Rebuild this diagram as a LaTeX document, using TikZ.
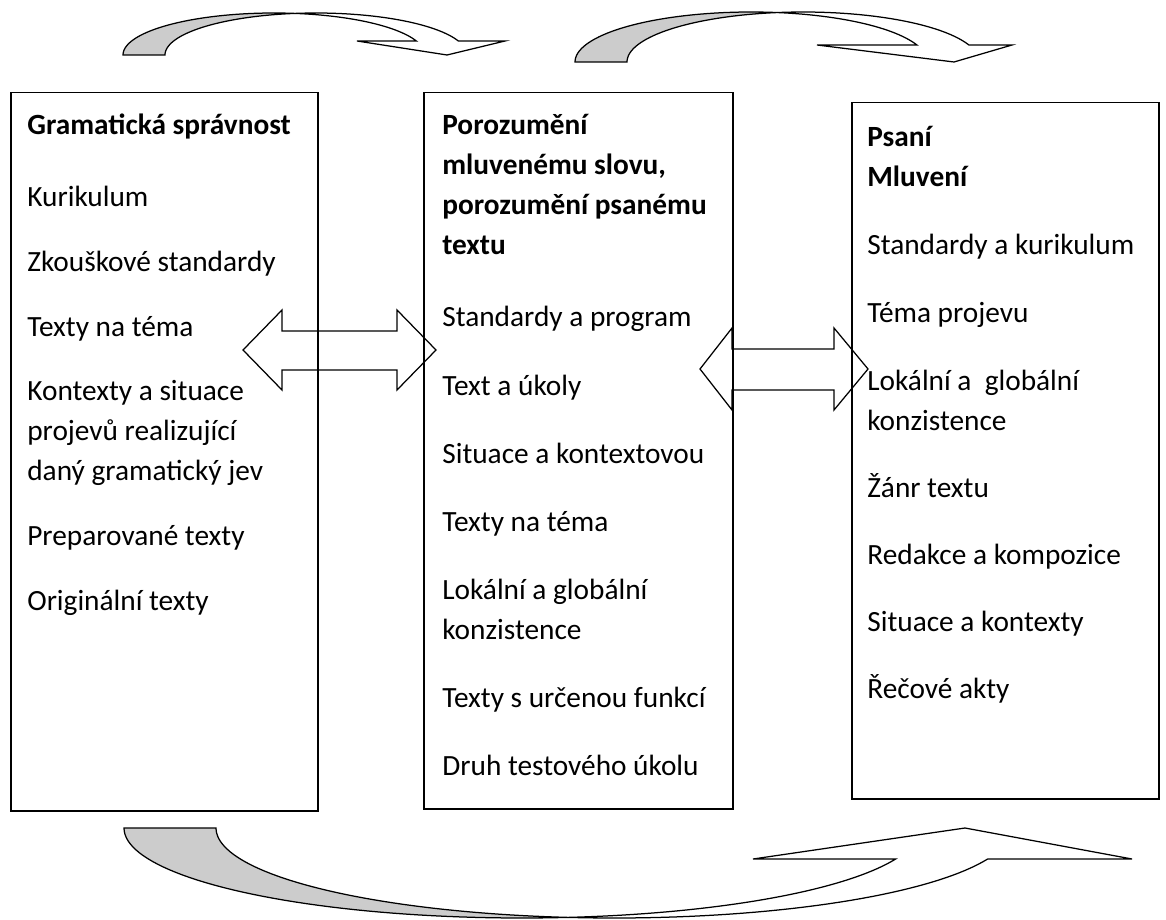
\documentclass[tikz,border=0pt]{standalone}
\usepackage{fontspec}
\setmainfont{Carlito}
\definecolor{underside}{RGB}{204,204,204}
\tikzset{
  panel/.style={draw, line width=0.9pt, anchor=north west, inner sep=0pt},
  item/.style={anchor=base west, inner sep=0pt, font=\fontsize{17.6}{21}\selectfont},
  heading/.style={item, font=\fontsize{17.6}{21}\selectfont\bfseries},
  blockarrow/.style={draw, line width=0.75pt, line join=miter},
}
\begin{document}
\begin{tikzpicture}[x=0.6pt,y=-0.6pt]
\useasboundingbox (0,0) rectangle (1166,920);

% three panels
\node[panel, minimum width=184.2pt, minimum height=430.8pt] (gram) at (10,92) {};
\node[panel, minimum width=185.4pt, minimum height=429.6pt] (poro) at (423,92) {};
\node[panel, minimum width=184.2pt, minimum height=417.6pt] (psani) at (851,102) {};

% left panel
\node[heading] (g0) at (27,135) {Gramatická správnost};
\node[item] (g1) at (27,207) {Kurikulum};
\node[item] (g2) at (27,272) {Zkouškové standardy};
\node[item] (g3) at (27,336) {Texty na téma};
\node[item] (g4) at (27,400) {Kontexty a situace};
\node[item] (g5) at (27,440) {projevů realizující};
\node[item] (g6) at (27,480) {daný gramatický jev};
\node[item] (g7) at (27,545) {Preparované texty};
\node[item] (g8) at (27,610) {Originální texty};

% middle panel
\node[heading] (p0) at (442,135) {Porozumění};
\node[heading] (p1) at (442,175) {mluvenému slovu,};
\node[heading] (p2) at (442,215) {porozumění psanému};
\node[heading] (p3) at (442,255) {textu};
\node[item] (p4) at (442,327) {Standardy a program};
\node[item] (p5) at (442,395) {Text a úkoly};
\node[item] (p6) at (442,463) {Situace a kontextovou};
\node[item] (p7) at (442,531) {Texty na téma};
\node[item] (p8) at (442,599) {Lokální a globální};
\node[item] (p9) at (442,639) {konzistence};
\node[item] (p10) at (442,707) {Texty s určenou funkcí};
\node[item] (p11) at (442,775) {Druh testového úkolu};

% right panel
\node[heading] (s0) at (867,147) {Psaní};
\node[heading] (s1) at (867,187) {Mluvení};
\node[item] (s2) at (867,255) {Standardy a kurikulum};
\node[item] (s3) at (867,322) {Téma projevu};
\node[item] (s4) at (867,390) {Lokální a\ \ globální};
\node[item] (s5) at (867,430) {konzistence};
\node[item] (s6) at (867,497) {Žánr textu};
\node[item] (s7) at (867,564) {Redakce a kompozice};
\node[item] (s8) at (867,631) {Situace a kontexty};
\node[item] (s9) at (867,698) {Řečové akty};

% two-headed block arrows (outline only)
\draw[blockarrow] (243,350) -- (282,310) -- (282,331) -- (397,331) -- (397,310)
  -- (436,350) -- (397,390) -- (397,370) -- (282,370) -- (282,390) -- cycle;
\draw[blockarrow] (700,369) -- (732,328) -- (732,349) -- (834,349) -- (834,328)
  -- (868,369) -- (834,410) -- (834,390) -- (732,390) -- (732,410) -- cycle;

% curved arrow over the first two panels
\filldraw[blockarrow, fill=underside]
  plot[domain=180:278, samples=40] ({274+151*cos(\x)},{55+42*sin(\x)})
  -- plot[domain=262:180, samples=40] ({316+151*cos(\x)},{55+42*sin(\x)}) -- cycle;
\filldraw[blockarrow, fill=white]
  plot[domain=278:340.53, samples=30] ({274+151*cos(\x)},{55+42*sin(\x)})
  -- (357,41) -- (447,55) -- (505,41)
  -- plot[domain=340.53:262, samples=30] ({316+151*cos(\x)},{55+42*sin(\x)}) -- cycle;

% curved arrow over the last two panels
\filldraw[blockarrow, fill=underside]
  plot[domain=180:278.49, samples=40] ({751.2+176.2*cos(\x)},{62+50*sin(\x)})
  -- plot[domain=261.51:180, samples=40] ({803.2+176.2*cos(\x)},{62+50*sin(\x)}) -- cycle;
\filldraw[blockarrow, fill=white]
  plot[domain=278.49:340.12, samples=30] ({751.2+176.2*cos(\x)},{62+50*sin(\x)})
  -- (817,45) -- (954,62) -- (1012,45)
  -- plot[domain=340.12:261.51, samples=30] ({803.2+176.2*cos(\x)},{62+50*sin(\x)}) -- cycle;

% long curved arrow under the panels
\filldraw[blockarrow, fill=underside]
  plot[domain=180:83.36, samples=50] ({522+398*cos(\x)},{828+90*sin(\x)})
  -- plot[domain=96.64:180, samples=50] ({614+398*cos(\x)},{828+90*sin(\x)}) -- cycle;
\filldraw[blockarrow, fill=white]
  plot[domain=83.36:20.15, samples=40] ({522+398*cos(\x)},{828+90*sin(\x)})
  -- (753,859) -- (965,828) -- (1132,859)
  -- plot[domain=20.15:96.64, samples=40] ({614+398*cos(\x)},{828+90*sin(\x)}) -- cycle;
\end{tikzpicture}
\end{document}
